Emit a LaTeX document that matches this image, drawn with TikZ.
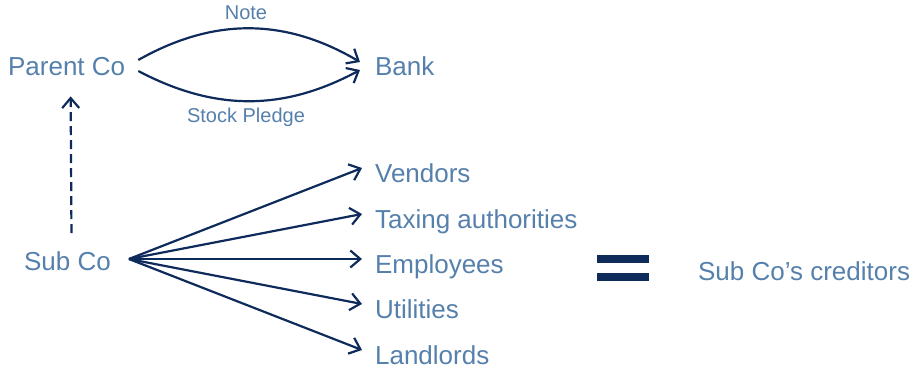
\documentclass[tikz,border=0pt]{standalone}
\usepackage{fontspec}
\setmainfont{Liberation Sans}
\usetikzlibrary{arrows.meta}
\definecolor{navy}{RGB}{14,43,92}
\definecolor{steel}{RGB}{86,128,172}

\begin{document}
\begin{tikzpicture}[x=1pt,y=-1pt,line width=2.2pt,navy,
   >={Straight Barb[length=10pt,width=17pt]},
   party/.style={inner sep=0pt,anchor=base west,text=steel,font=\fontsize{26}{31}\selectfont},
   deal/.style={inner sep=0pt,anchor=base,text=steel,font=\fontsize{20}{24}\selectfont}]
  \useasboundingbox (0,0) rectangle (924,369);

  \node[party](parent) at (7,76) {Parent Co};
  \node[party](bank) at (374,76) {Bank};
  \node[party](sub) at (23,270) {Sub Co};
  \node[party](vendors) at (374,182) {Vendors};
  \node[party](taxing) at (374,228) {Taxing authorities};
  \node[party](employees) at (374,273) {Employees};
  \node[party](utilities) at (374,318) {Utilities};
  \node[party](landlords) at (374,364) {Landlords};
  \node[party](creditors) at (697,280) {Sub Co’s creditors};
  \node[deal](note) at (246,20) {Note};
  \node[deal](pledge) at (246,122) {Stock Pledge};

  \draw[->] ([xshift=12pt,yshift=16pt]parent.base east) to[bend left=30] ([xshift=-14pt,yshift=14pt]bank.base west);
  \draw[->] ([xshift=12pt,yshift=5pt]parent.base east) to[bend right=28] ([xshift=-14pt,yshift=6pt]bank.base west);
  \draw[->,dash pattern=on 9pt off 5pt] ([xshift=4pt,yshift=17pt]sub.north) -- ([xshift=4pt,yshift=-19pt]parent.south);

  \foreach \to in {vendors,taxing,employees,utilities,landlords}
    \draw[->] ([xshift=17pt,yshift=11pt]sub.base east) -- ([xshift=-12pt,yshift=14pt]\to.base west);

  % equals sign
  \fill (597,255) rectangle (649,263);
  \fill (597,273) rectangle (649,281);
\end{tikzpicture}
\end{document}
